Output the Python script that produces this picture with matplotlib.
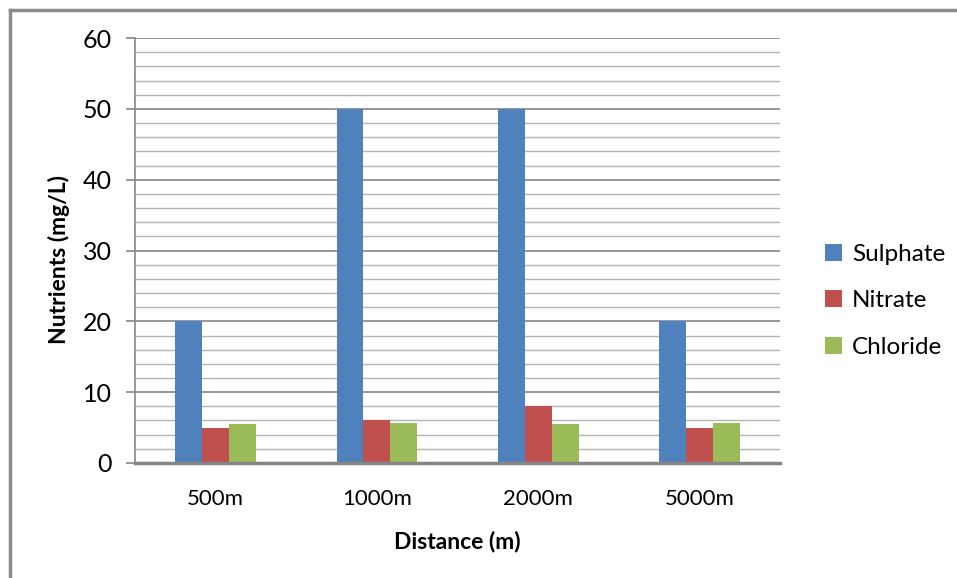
import matplotlib
matplotlib.use("Agg")
import matplotlib.pyplot as plt
from matplotlib.ticker import MultipleLocator
from matplotlib.lines import Line2D
import numpy as np

plt.rcParams['font.family'] = ['Lato', 'DejaVu Sans']

distances = ["500m", "1000m", "2000m", "5000m"]
sulphate = [20, 50, 50, 20]
nitrate = [5, 6, 8, 5]
chloride = [5.5, 5.6, 5.5, 5.6]

series = [("Sulphate", sulphate, "#4F81BD"),
          ("Nitrate", nitrate, "#C0504D"),
          ("Chloride", chloride, "#9BBB59")]

fig = plt.figure(figsize=(9.57, 5.78), dpi=100)
ax = fig.add_axes([0.1411, 0.199, 0.674, 0.735])

x = np.arange(len(distances))
w = 0.167
for i, (name, vals, col) in enumerate(series):
    ax.bar(x + (i - 1) * w, vals, width=w, color=col, label=name, zorder=3)

ax.set_xlim(-0.5, len(distances) - 0.5)
ax.set_ylim(0, 60)
ax.yaxis.set_major_locator(MultipleLocator(10))
ax.yaxis.set_minor_locator(MultipleLocator(2))
ax.grid(which='major', axis='y', color='#868686', linewidth=1.2, zorder=0)
ax.grid(which='minor', axis='y', color='#B4B4B4', linewidth=1.0, zorder=0)

ax.set_xticks(x)
ax.set_xticklabels(distances, fontsize=16)
ax.tick_params(axis='x', length=0, pad=19)
ax.tick_params(axis='y', which='major', length=6.5, width=1.2, color='#868686',
               labelsize=18, pad=10)
ax.tick_params(axis='y', which='minor', length=0)

for s in ['top', 'right']:
    ax.spines[s].set_visible(False)
ax.spines['left'].set_color('#868686')
ax.spines['left'].set_linewidth(1.2)
ax.spines['bottom'].set_color('#868686')
ax.spines['bottom'].set_linewidth(2.5)
ax.spines['bottom'].set_zorder(4)

ax.set_ylabel("Nutrients (mg/L)", fontsize=16.5, fontweight='bold')
ax.yaxis.set_label_coords(-0.101, 0.478)
ax.set_xlabel("Distance (m)", fontsize=16.5, fontweight='bold', labelpad=15)

fig.legend(loc='center left', bbox_to_anchor=(0.8495, 0.48), frameon=False,
           fontsize=17.5, handlelength=0.7, handleheight=0.7, handletextpad=0.4,
           labelspacing=1.05, borderpad=0)

# chart frame (left and top edges)
fig.add_artist(Line2D([9.5 / 957, 9.5 / 957], [0, 1 - 9.5 / 578],
                      transform=fig.transFigure, color='#8A8A8A', linewidth=2.5))
fig.add_artist(Line2D([9.5 / 957, 1], [1 - 9.5 / 578, 1 - 9.5 / 578],
                      transform=fig.transFigure, color='#8A8A8A', linewidth=2.5))

fig.savefig("out.png", dpi=100, facecolor='white')
